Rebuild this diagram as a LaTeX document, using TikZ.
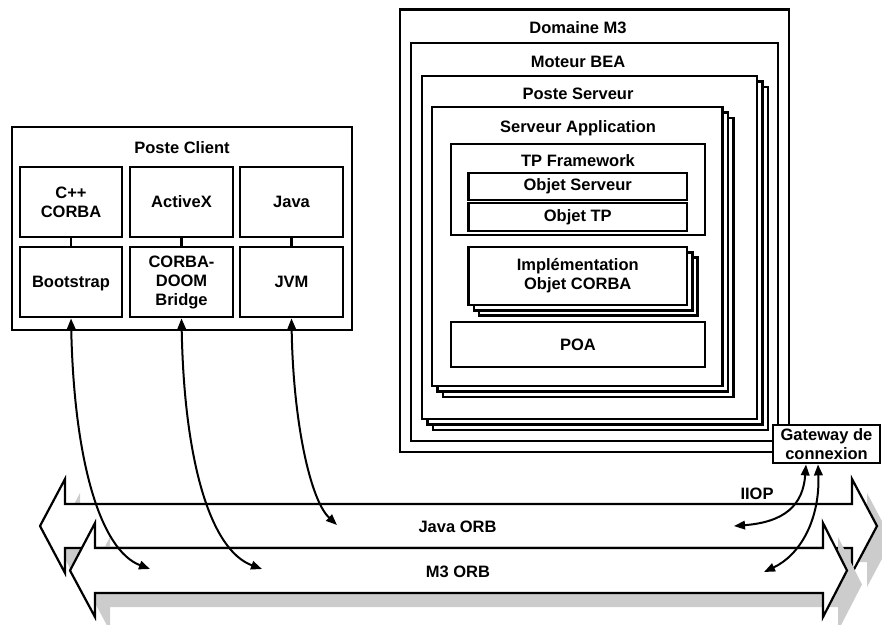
\documentclass[tikz,border=0pt]{standalone}
\usepackage{fontspec}
\setmainfont{Liberation Sans}
\usetikzlibrary{arrows.meta}
\definecolor{shadowgray}{RGB}{204,204,204}
\begin{document}
\begin{tikzpicture}[x=1pt,y=-1pt,
  every node/.style={font=\bfseries\fontsize{16.5}{19}\selectfont},
  box/.style={draw, line width=2.8pt, fill=white, inner sep=0pt, align=center},
  stackbox/.style={draw, line width=2.4pt, fill=white, inner sep=0pt},
  lbl/.style={inner sep=0pt, anchor=base},
  dar/.style={line width=2pt, {Triangle[length=11pt,width=8.5pt]}-{Triangle[length=11pt,width=8.5pt]}},
  orb/.style={draw, line width=2.2pt, fill=white, line join=miter},
  shd/.style={fill=shadowgray}
]
\useasboundingbox (0,0) rectangle (882,624);

% ---------- ORB arrows ----------
\fill[shd, shift={(15,14)}] (40,526) -- (65,479) -- (65,504) -- (852,504) -- (852,479) -- (877,526) -- (852,573) -- (852,548) -- (65,548) -- (65,573) -- cycle;
\path[orb] (40,526) -- (65,479) -- (65,504) -- (852,504) -- (852,479) -- (877,526) -- (852,573) -- (852,548) -- (65,548) -- (65,573) -- cycle;
\fill[shd, shift={(15,14)}] (70,570.5) -- (95,523) -- (95,548) -- (823,548) -- (823,523) -- (847,570.5) -- (823,617) -- (823,593) -- (95,593) -- (95,617) -- cycle;
\path[orb] (70,570.5) -- (95,523) -- (95,548) -- (823,548) -- (823,523) -- (847,570.5) -- (823,617) -- (823,593) -- (95,593) -- (95,617) -- cycle;
\node[lbl] (javaorb) at (457.5,532) {Java ORB};
\node[lbl] (m3orb) at (458,577) {M3 ORB};
\node[lbl] (iiop) at (757,499) {IIOP};

% ---------- Client ----------
\node[box, minimum width=340pt, minimum height=203pt] (pc) at (182,228.5) {};
\node[lbl] (pclbl) at (182,153) {Poste Client};
\node[box, minimum width=102pt, minimum height=70pt] (c1) at (71,202) {C++\\CORBA};
\node[box, minimum width=103pt, minimum height=70pt] (c2) at (181.5,202) {ActiveX};
\node[box, minimum width=103pt, minimum height=70pt] (c3) at (291.5,202) {Java};
\node[box, minimum width=102pt, minimum height=70pt, text depth=0pt] (b1) at (71,282) {Bootstrap};
\node[box, minimum width=103pt, minimum height=70pt] (b2) at (181.5,282) {CORBA-\\DOOM\\Bridge};
\node[box, minimum width=103pt, minimum height=70pt] (b3) at (291.5,282) {JVM};
\draw[line width=2.6pt] (c1.south) -- (b1.north);
\draw[line width=2.6pt] (c2.south) -- (b2.north);
\draw[line width=2.6pt] (c3.south) -- (b3.north);

% ---------- Server ----------
\node[box, minimum width=389pt, minimum height=442.5pt] (dom) at (594.5,230.75) {};
\node[lbl] (domlbl) at (578,33) {Domaine M3};
\node[box, minimum width=367pt, minimum height=398pt] (mot) at (594.5,242) {};
\node[lbl] (motlbl) at (578,67) {Moteur BEA};
\node[stackbox, minimum width=335pt, minimum height=343pt] (psb) at (600.5,258.5) {};
\node[stackbox, minimum width=335pt, minimum height=343pt] (psm) at (595,253) {};
\node[box, minimum width=335pt, minimum height=343pt] (ps) at (589.5,247.5) {};
\node[lbl] (pslbl) at (578,99) {Poste Serveur};
\node[stackbox, minimum width=290.5pt, minimum height=279pt] (sab) at (588.25,257.5) {};
\node[stackbox, minimum width=290.5pt, minimum height=279pt] (sam) at (582.75,252) {};
\node[box, minimum width=290.5pt, minimum height=279pt] (sa) at (577.25,246.5) {};
\node[lbl] (salbl) at (578,132) {Serveur Application};
\node[box, minimum width=254pt, minimum height=91pt] (tp) at (578,189.5) {};
\node[lbl] (tplbl) at (578,166) {TP Framework};
\node[box, minimum width=218.5pt, minimum height=27pt] (os) at (577.75,186.5) {Objet Serveur};
\node[box, minimum width=218.5pt, minimum height=28pt] (otp) at (577.75,217) {Objet TP};
\node[stackbox, minimum width=218.5pt, minimum height=58pt] (implb) at (588.35,286.6) {};
\node[stackbox, minimum width=218.5pt, minimum height=58pt] (implm) at (583.05,281.3) {};
\node[box, minimum width=218.5pt, minimum height=58pt] (impl) at (577.75,276) {Implémentation\\Objet CORBA};
\node[box, minimum width=254pt, minimum height=45pt] (poa) at (578,344.5) {POA};
\node[box, minimum width=107pt, minimum height=38pt] (gw) at (826.5,444) {Gateway de\\connexion};

% ---------- connectors ----------
\coordinate (e1) at (150,569);
\coordinate (e2) at (262,569);
\coordinate (e3) at (337,525);
\coordinate (e4) at (734,526);
\coordinate (e5) at (764,572);
\draw[dar] (b1.south) .. controls (74,460) and (100,550) .. (e1);
\draw[dar] (b2.south) .. controls (184,460) and (210,550) .. (e2);
\draw[dar] (b3.south) .. controls (293,420) and (310,500) .. (e3);
\draw[dar] ([xshift=-20.5pt]gw.south) .. controls (803,505) and (785,522) .. (e4);
\draw[dar] ([xshift=-8.5pt]gw.south) .. controls (820,520) and (800,555) .. (e5);
\end{tikzpicture}
\end{document}
